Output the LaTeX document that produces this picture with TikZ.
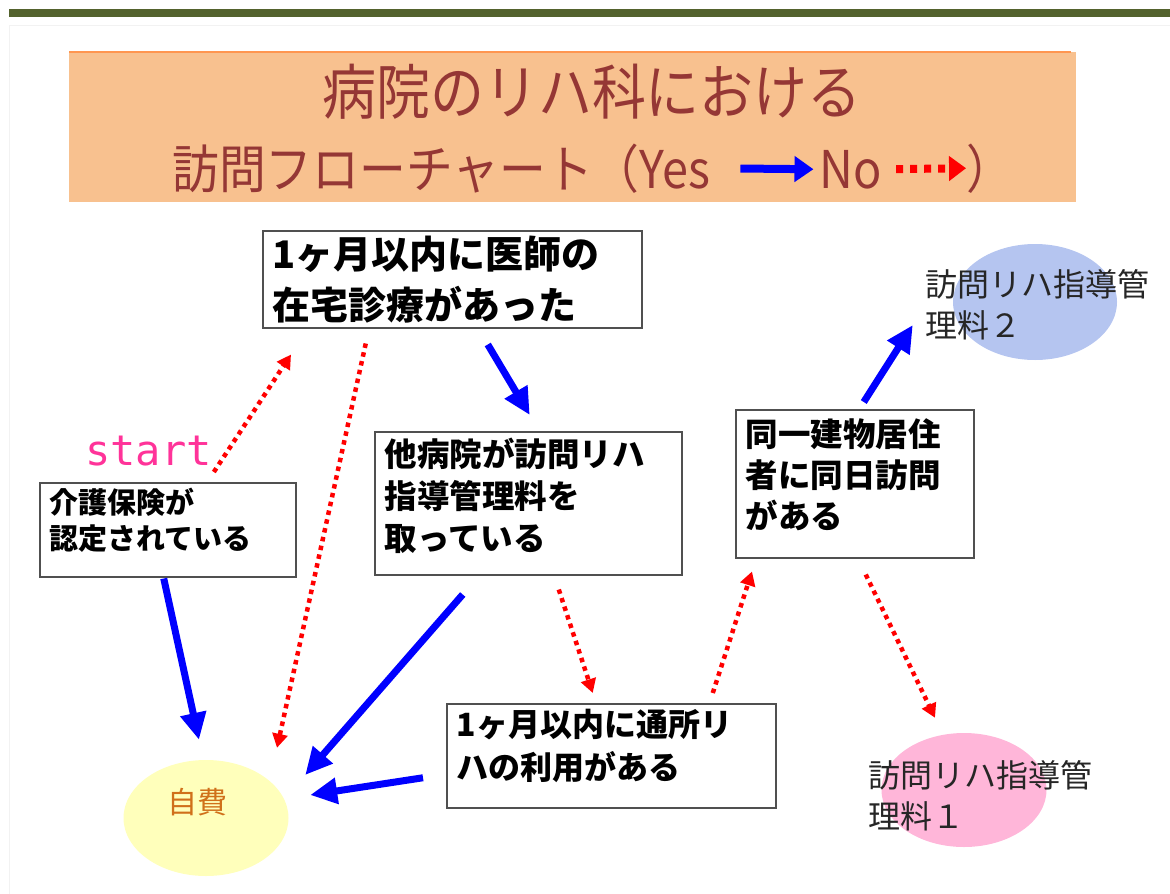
\documentclass[tikz,border=0pt]{standalone}
\usepackage{fontspec}
\setmainfont{Noto Sans CJK JP}
\newfontfamily\titlefont[FakeStretch=0.9]{Noto Sans CJK JP}
\newfontfamily\startfont{DejaVu Sans Mono}
\usepackage{xcolor}
\usepackage{tikz}
\usetikzlibrary{positioning, arrows.meta, shapes}

\definecolor{barGreen}{HTML}{53622D}
\definecolor{titleFill}{HTML}{F8C18F}
\definecolor{titleLine}{HTML}{FF9650}
\definecolor{titleText}{HTML}{953735}
\definecolor{boxLine}{HTML}{505050}
\definecolor{selfFill}{HTML}{FFFFBB}
\definecolor{selfText}{HTML}{D0701A}
\definecolor{planTwo}{HTML}{B5C5F0}
\definecolor{planOne}{HTML}{FFB6D9}
\definecolor{startPink}{HTML}{FF3399}

\begin{document}
\begin{tikzpicture}[
    x=1pt, y=-1pt,
    mybox/.style={draw=boxLine, line width=1.5pt, fill=white, anchor=north west, align=left, inner xsep=10pt, inner ysep=0pt},
    myellipse/.style={ellipse, inner sep=0pt},
    mylabel/.style={align=left, text=black!85, font=\fontsize{32}{41}\selectfont},
    mytitle/.style={text=titleText, inner sep=0pt},
    myyes/.style={-{Triangle[length=27pt, width=25pt]}, blue, line width=7pt},
    myno/.style={-{Triangle[length=14pt, width=15pt]}, red, line width=4.5pt, dash pattern=on 4.5pt off 4.5pt}
]
  \useasboundingbox (0,0) rectangle (1170,894);

  % Title
  \fill[barGreen] (9,9) rectangle (1170,17);
  \draw[black!5, line width=1pt] (1170,25) -- (9,25) -- (9,894);
  \node[fill=titleFill, minimum width=1007pt, minimum height=150pt, anchor=north west, inner sep=0pt] (titlebox) at (69,52) {};
  \draw[titleLine, line width=2.5pt] (titlebox.north west) -- ([xshift=-5pt]titlebox.north east);
  \node[mytitle, font=\titlefont\fontsize{60}{60}\selectfont, anchor=base] (titleA) at (592,114) {病院のリハ科における};
  \node[mytitle, font=\titlefont\fontsize{52}{52}\selectfont, anchor=base west] (flowA) at (172,188) {訪問フローチャート（Yes};
  \node[mytitle, font=\titlefont\fontsize{52}{52}\selectfont, base right=109pt of flowA] (flowB) {No};
  \node[mytitle, font=\titlefont\fontsize{52}{52}\selectfont, base right=84pt of flowB] (flowC) {）};
  \draw[-{Triangle[length=19pt, width=25pt]}, blue, line width=8pt, shorten <=30pt, shorten >=6pt] (flowA.east) -- (flowB.west);
  \draw[-{Triangle[length=17pt, width=24pt]}, red, line width=8pt, dash pattern=on 7pt off 7pt, shorten <=14pt] (flowB.east) -- (flowC.west);

  % Nodes
  \node[mybox, text width=359pt, minimum height=97pt, font=\bfseries\fontsize{38}{51}\selectfont] (doctor) at (262,230) {1ヶ月以内に医師の\\在宅診療があった};
  \node[mybox, text width=236pt, minimum height=94pt, text depth=57pt, font=\bfseries\fontsize{29}{36}\selectfont] (kaigo) at (39,482) {介護保険が\\認定されている};
  \node[mybox, text width=287pt, minimum height=143pt, text depth=102pt, font=\bfseries\fontsize{32.5}{42}\selectfont] (other) at (374,431) {他病院が訪問リハ\\指導管理料を\\取っている};
  \node[mybox, text width=218pt, minimum height=148pt, text depth=103pt, font=\bfseries\fontsize{32.5}{41}\selectfont] (dokyo) at (735,409) {同一建物居住\\者に同日訪問\\がある};
  \node[mybox, text width=309pt, minimum height=104pt, text depth=65pt, font=\bfseries\fontsize{32}{43}\selectfont] (tsusho) at (446,703) {1ヶ月以内に通所リ\\ハの利用がある};
  \node[font=\startfont\fontsize{42}{42}\selectfont, text=startPink, anchor=base west, inner sep=0pt] (start) at (85,465) {start};

  \node[myellipse, fill=selfFill, minimum width=165pt, minimum height=116pt] (jihi) at (206,818) {};
  \node[text=selfText, font=\fontsize{30}{36}\selectfont] (jihiText) at ([shift={(-9,-16)}]jihi.center) {自費};
  \node[myellipse, fill=planTwo, minimum width=164pt, minimum height=116pt] (kanri2) at (1035,302) {};
  \node[mylabel] (kanri2Text) at ([shift={(2,3)}]kanri2.center) {訪問リハ指導管\\理料２};
  \node[myellipse, fill=planOne, minimum width=165pt, minimum height=114pt] (kanri1) at (964,790) {};
  \node[mylabel] (kanri1Text) at ([shift={(16,6)}]kanri1.center) {訪問リハ指導管\\理料１};

  % Yes arrows
  \draw[myyes] ([shift={(-4,1)}]kaigo.south) -- ([shift={(-7,-20)}]jihi.north);
  \draw[myyes] ([shift={(35.5,16)}]doctor.south) -- ([shift={(1.5,-16)}]other.north);
  \draw[myyes] ([shift={(-65.5,19)}]other.south) -- ([shift={(16.5,-43)}]jihi.east);
  \draw[myyes] ([shift={(-23,22)}]tsusho.west) -- ([shift={(21.5,-23)}]jihi.east);
  \draw[myyes] ([shift={(9,-7)}]dokyo.north) -- ([shift={(-40,23)}]kanri2.west);

  % No arrows
  \draw[myno] ([shift={(2,7)}]start.base east) -- ([shift={(29,26)}]doctor.south west);
  \draw[myno] ([shift={(-86.5,15)}]doctor.south) -- ([shift={(71,-12)}]jihi.north);
  \draw[myno] ([shift={(30.5,14)}]other.south) -- ([shift={(-18.5,-10)}]tsusho.north);
  \draw[myno] ([shift={(101.5,-10)}]tsusho.north) -- ([shift={(17,13)}]dokyo.south west);
  \draw[myno] ([shift={(11,16)}]dokyo.south) -- ([shift={(-29,-15)}]kanri1.north);

\end{tikzpicture}
\end{document}
